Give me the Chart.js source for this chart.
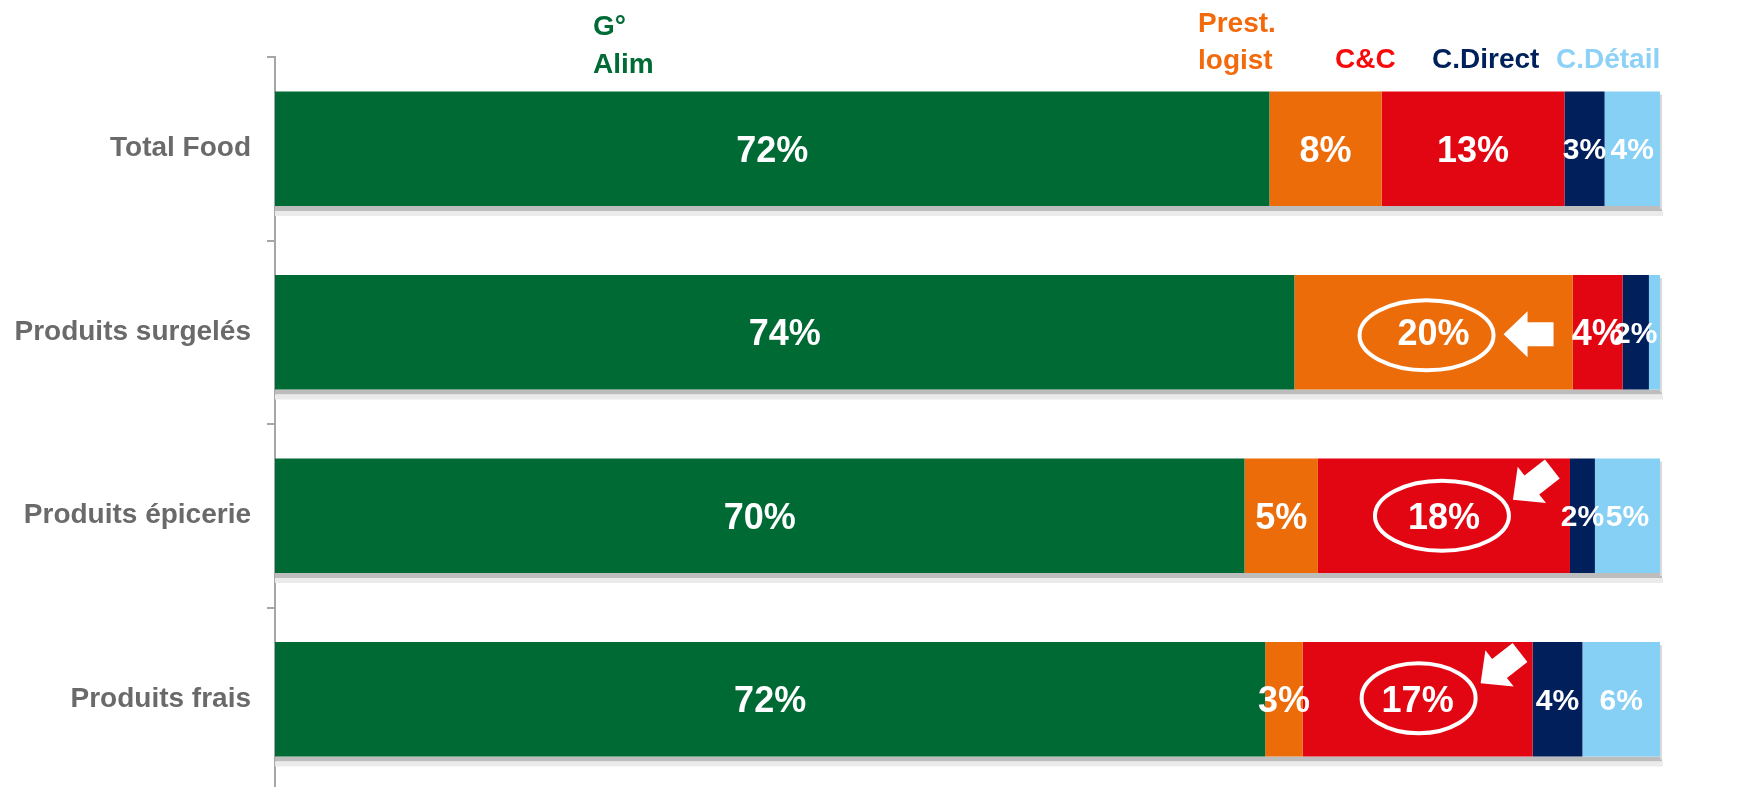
<!DOCTYPE html>
<html>
<head>
<meta charset="utf-8">
<script src="https://cdn.jsdelivr.net/npm/chart.js@4.4.1/dist/chart.umd.min.js"></script>
<style>
    html, body { margin: 0; padding: 0; background: #fff; overflow: hidden; }
    .chart-box { position: relative; width: 1748px; height: 791px; }
</style>
</head>
<body>
<div class="chart-box"><canvas class="chart-1"></canvas></div>
<script>
const categories = ['Total Food', 'Produits surgelés', 'Produits épicerie', 'Produits frais'];
const seriesNames = [['G°', 'Alim'], ['Prest.', 'logist'], ['C&C'], ['C.Direct'], ['C.Détail']];

// parts de marché en %
const gAlim = [71.8, 73.6, 70.0, 71.5];
const prestLogist = [8.1, 20.1, 5.3, 2.7];
const cashCarry = [13.2, 3.6, 18.2, 16.6];
const cDirect = [2.9, 1.9, 1.8, 3.6];
const cDetail = [4.0, 0.8, 4.7, 5.6];

const barColors = ['#006a34', '#ec6c0a', '#e20613', '#001f5b', '#86cff5'];
const headerColors = ['#006b34', '#f26a0c', '#f70a0a', '#00205b', '#8dd2f6'];

// segments entourés : [categorie, serie]
const highlights = [[1, 1], [2, 2], [3, 2]];

const FONT = "'Liberation Sans', Arial, sans-serif";
const chart1 = document.querySelector('.chart-1');

// ombre grise sous chaque barre
const shadowPlugin = {
    id: 'shadow',
    beforeDatasetsDraw(chart) {
        const ctx = chart.ctx;
        const left = chart.chartArea.left;
        const last = chart.getDatasetMeta(chart.data.datasets.length - 1);
        ctx.save();
        last.data.forEach(el => {
            const p = el.getProps(['x', 'y', 'height'], true);
            const bottom = p.y + p.height / 2;
            const top = p.y - p.height / 2;
            ctx.fillStyle = '#bdbdbd';
            ctx.fillRect(left, bottom, p.x - left + 2, 5);
            ctx.fillStyle = '#ebebeb';
            ctx.fillRect(left, bottom + 5, p.x - left + 3, 5);
            ctx.fillStyle = '#dadada';
            ctx.fillRect(p.x, top + 3, 2, p.height);
        });
        ctx.restore();
    }
};

// pourcentages au centre des segments
const labelPlugin = {
    id: 'segLabels',
    afterDatasetsDraw(chart) {
        const ctx = chart.ctx;
        ctx.save();
        ctx.fillStyle = '#ffffff';
        ctx.textAlign = 'center';
        ctx.textBaseline = 'alphabetic';
        chart.data.datasets.forEach((ds, i) => {
            const size = i < 3 ? 36 : 30;
            ctx.font = 'bold ' + size + 'px ' + FONT;
            chart.getDatasetMeta(i).data.forEach((el, j) => {
                const v = ds.data[j];
                if (v < 1) return;
                const p = el.getProps(['x', 'y', 'base'], true);
                ctx.fillText(Math.round(v) + '%', (p.x + p.base) / 2, p.y + size * 0.716 / 2);
            });
        });
        ctx.restore();
    }
};

function drawArrow(ctx, x, y, angle) {
    ctx.save();
    ctx.translate(x, y);
    ctx.rotate((angle - 180) * Math.PI / 180);
    ctx.beginPath();
    ctx.moveTo(0, 0);
    ctx.lineTo(24, -23);
    ctx.lineTo(24, -12);
    ctx.lineTo(50, -12);
    ctx.lineTo(50, 12);
    ctx.lineTo(24, 12);
    ctx.lineTo(24, 23);
    ctx.closePath();
    ctx.fillStyle = '#ffffff';
    ctx.fill();
    ctx.restore();
}

// ellipses + fleches blanches
const highlightPlugin = {
    id: 'highlights',
    afterDatasetsDraw(chart) {
        const ctx = chart.ctx;
        const shapes = [
            { ex: -7, ey: 3, rx: 67, ry: 35, ax: 70, ay: 2, angle: 180 },
            { ex: -2, ey: 0, rx: 67, ry: 35, ax: 69, ay: -16, angle: 142 },
            { ex: 1, ey: -1, rx: 57, ry: 35, ax: 63, ay: -16, angle: 142 }
        ];
        ctx.save();
        highlights.forEach((h, k) => {
            const el = chart.getDatasetMeta(h[1]).data[h[0]];
            const p = el.getProps(['x', 'y', 'base'], true);
            const cx = (p.x + p.base) / 2;
            const s = shapes[k];
            ctx.beginPath();
            ctx.ellipse(cx + s.ex, p.y + s.ey, s.rx, s.ry, 0, 0, Math.PI * 2);
            ctx.strokeStyle = '#ffffff';
            ctx.lineWidth = 4;
            ctx.stroke();
            drawArrow(ctx, cx + s.ax, p.y + s.ay, s.angle);
        });
        ctx.restore();
    }
};

// noms des series en haut
const headerPlugin = {
    id: 'headers',
    afterDraw(chart) {
        const ctx = chart.ctx;
        const xs = [593, 1198, 1335, 1432, 1556];
        const ys = [[35, 73], [32, 69], [68], [68], [68]];
        ctx.save();
        ctx.font = 'bold 28px ' + FONT;
        ctx.textAlign = 'left';
        ctx.textBaseline = 'alphabetic';
        seriesNames.forEach((lines, i) => {
            ctx.fillStyle = headerColors[i];
            lines.forEach((t, l) => ctx.fillText(t, xs[i], ys[i][l]));
        });
        ctx.restore();
    }
};

const seriesData = [gAlim, prestLogist, cashCarry, cDirect, cDetail];

new Chart(chart1, {
    type: 'bar',
    data: {
        labels: categories,
        datasets: seriesData.map((d, i) => ({
            label: seriesNames[i].join(' '),
            data: d,
            backgroundColor: barColors[i],
            borderWidth: 0,
            barPercentage: 0.624,
            categoryPercentage: 1
        }))
    },
    options: {
        indexAxis: 'y',
        responsive: true,
        maintainAspectRatio: false,
        animation: false,
        layout: { padding: { top: 57, right: 88, bottom: 0, left: 0 } },
        plugins: {
            legend: { display: false },
            tooltip: { enabled: false }
        },
        scales: {
            x: { stacked: true, min: 0, max: 100, display: false },
            y: {
                stacked: true,
                afterFit(scale) {
                    scale.width = 275;
                    scale.paddingTop = 0;
                    scale.paddingBottom = 0;
                },
                grid: {
                    drawOnChartArea: false,
                    drawTicks: true,
                    tickLength: 8,
                    color: '#a6a6a6',
                    lineWidth: 2,
                    offset: true
                },
                border: { display: true, color: '#a6a6a6', width: 2 },
                ticks: {
                    color: '#6a6a6a',
                    padding: 16,
                    font: { family: FONT, size: 28, weight: 'bold' }
                }
            }
        }
    },
    plugins: [shadowPlugin, labelPlugin, highlightPlugin, headerPlugin]
});
</script>
</body>
</html>
